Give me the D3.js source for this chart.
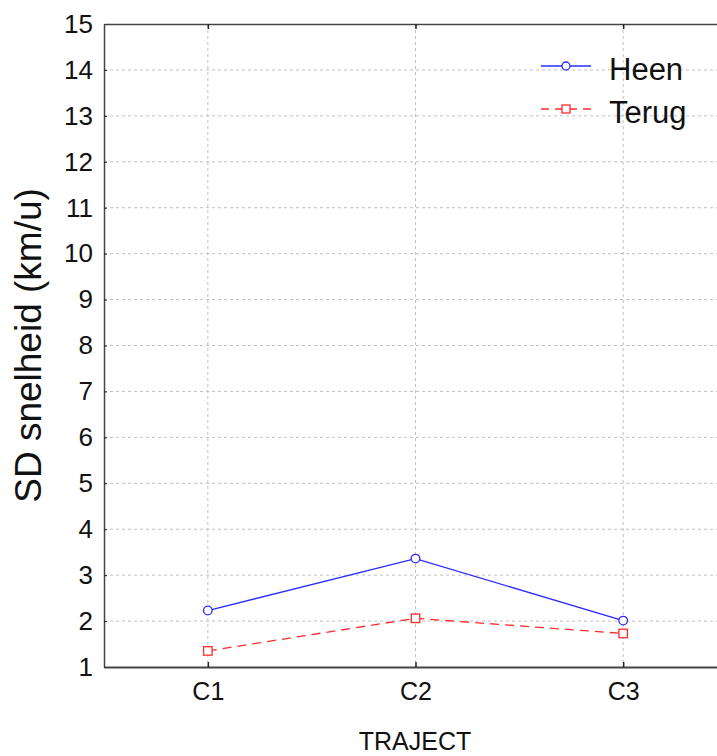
<!DOCTYPE html>
<html>
<head>
<meta charset="utf-8">
<script src="https://cdn.jsdelivr.net/npm/d3@7/dist/d3.min.js"></script>
<style>
  html, body { margin: 0; padding: 0; background: #fff; }
  svg { display: block; font-family: Arial, "Liberation Sans", sans-serif; }
</style>
</head>
<body>
<svg id="chart" width="717" height="756"></svg>
<script>
// Trajectory sections and the standard deviation of speed per direction
const categories = ["C1", "C2", "C3"];
const heen  = [2.23, 3.36, 2.01];
const terug = [1.35, 2.06, 1.73];
const yTicks = d3.range(1, 16);
const seriesNames = ["Heen", "Terug"];

const svg = d3.select("#chart");
const margin = { left: 104, top: 24, right: 727, bottom: 667 };
const fontFamily = "Arial, 'Liberation Sans', sans-serif";

const x = d3.scalePoint().domain(categories).range([margin.left, margin.right]).padding(0.5);
const y = d3.scaleLinear().domain([1, 15]).range([margin.bottom, margin.top]);

const gridColor = "#c0c0c0";
const axisColor = "#444";

// Grid
const grid = svg.append("g");
grid.selectAll("line.h").data(yTicks.slice(1, -1)).join("line")
  .attr("x1", margin.left).attr("x2", margin.right)
  .attr("y1", d => y(d)).attr("y2", d => y(d))
  .attr("stroke", gridColor).attr("stroke-width", 1).attr("stroke-dasharray", "3,3");
grid.selectAll("line.v").data(categories).join("line")
  .attr("x1", d => x(d)).attr("x2", d => x(d))
  .attr("y1", margin.top).attr("y2", margin.bottom)
  .attr("stroke", gridColor).attr("stroke-width", 1).attr("stroke-dasharray", "3,3");

// Axes
const yAxis = d3.axisLeft(y).tickValues(yTicks).tickSizeInner(-3).tickSizeOuter(0).tickPadding(11);
const gy = svg.append("g").attr("transform", `translate(${margin.left},0)`).call(yAxis);
gy.attr("font-family", fontFamily);
gy.select(".domain").attr("stroke", axisColor).attr("stroke-width", 1.5);
gy.selectAll(".tick line").attr("stroke", "#222");
gy.selectAll(".tick text").attr("font-size", 26).attr("fill", "#111");

const xAxis = d3.axisBottom(x).tickSizeInner(-5).tickSizeOuter(0).tickPadding(15);
const gx = svg.append("g").attr("transform", `translate(0,${margin.bottom})`).call(xAxis);
gx.attr("font-family", fontFamily);
gx.select(".domain").attr("stroke", axisColor).attr("stroke-width", 2);
gx.selectAll(".tick line").attr("stroke", "#222").attr("stroke-width", 1.5);
gx.selectAll(".tick text").attr("font-size", 25).attr("fill", "#111");

const xTop = d3.axisTop(x).tickSizeInner(-5).tickSizeOuter(0).tickFormat("");
const gt = svg.append("g").attr("transform", `translate(0,${margin.top})`).call(xTop);
gt.select(".domain").attr("stroke", axisColor).attr("stroke-width", 1.5);
gt.selectAll(".tick line").attr("stroke", "#222").attr("stroke-width", 1.5);

// Axis titles
svg.append("text")
  .attr("transform", `translate(41,${(margin.top + margin.bottom) / 2}) rotate(-90)`)
  .attr("text-anchor", "middle").attr("font-size", 37).attr("fill", "#111")
  .text("SD snelheid (km/u)");
svg.append("text")
  .attr("x", 415).attr("y", 750).attr("text-anchor", "middle")
  .attr("font-size", 25).attr("fill", "#111")
  .text("TRAJECT");

// Series
const blue = "#2b2bff";
const red = "#ff2b2b";
const line = d3.line().x((d, i) => x(categories[i])).y(d => y(d));

svg.append("path").datum(heen).attr("d", line)
  .attr("fill", "none").attr("stroke", blue).attr("stroke-width", 1.3);
svg.append("path").datum(terug).attr("d", line)
  .attr("fill", "none").attr("stroke", red).attr("stroke-width", 1.3)
  .attr("stroke-dasharray", "9,6");

svg.selectAll("circle.heen").data(heen).join("circle")
  .attr("cx", (d, i) => x(categories[i])).attr("cy", d => y(d)).attr("r", 4.3)
  .attr("fill", "#fff").attr("stroke", blue).attr("stroke-width", 1.3);
const sq = 8.5;
svg.selectAll("rect.terug").data(terug).join("rect")
  .attr("x", (d, i) => x(categories[i]) - sq / 2).attr("y", d => y(d) - sq / 2)
  .attr("width", sq).attr("height", sq)
  .attr("fill", "#fff").attr("stroke", red).attr("stroke-width", 1.3);

// Legend
const legend = svg.append("g");
const lx1 = 541, lx2 = 591, lmid = 566;
const rows = [{ name: seriesNames[0], yy: 66, color: blue, dash: null, mark: "circle" },
              { name: seriesNames[1], yy: 109, color: red, dash: "8,6", mark: "rect" }];
rows.forEach(r => {
  legend.append("line").attr("x1", lx1).attr("x2", lx2).attr("y1", r.yy).attr("y2", r.yy)
    .attr("stroke", r.color).attr("stroke-width", 1.3)
    .attr("stroke-dasharray", r.dash);
  if (r.mark === "circle") {
    legend.append("circle").attr("cx", lmid).attr("cy", r.yy).attr("r", 4)
      .attr("fill", "#fff").attr("stroke", r.color).attr("stroke-width", 1.3);
  } else {
    legend.append("rect").attr("x", lmid - 4).attr("y", r.yy - 4).attr("width", 8).attr("height", 8)
      .attr("fill", "#fff").attr("stroke", r.color).attr("stroke-width", 1.3);
  }
  legend.append("text").attr("x", 609).attr("y", r.yy + 14).attr("font-size", 31).attr("fill", "#111")
    .text(r.name);
});
</script>
</body>
</html>
